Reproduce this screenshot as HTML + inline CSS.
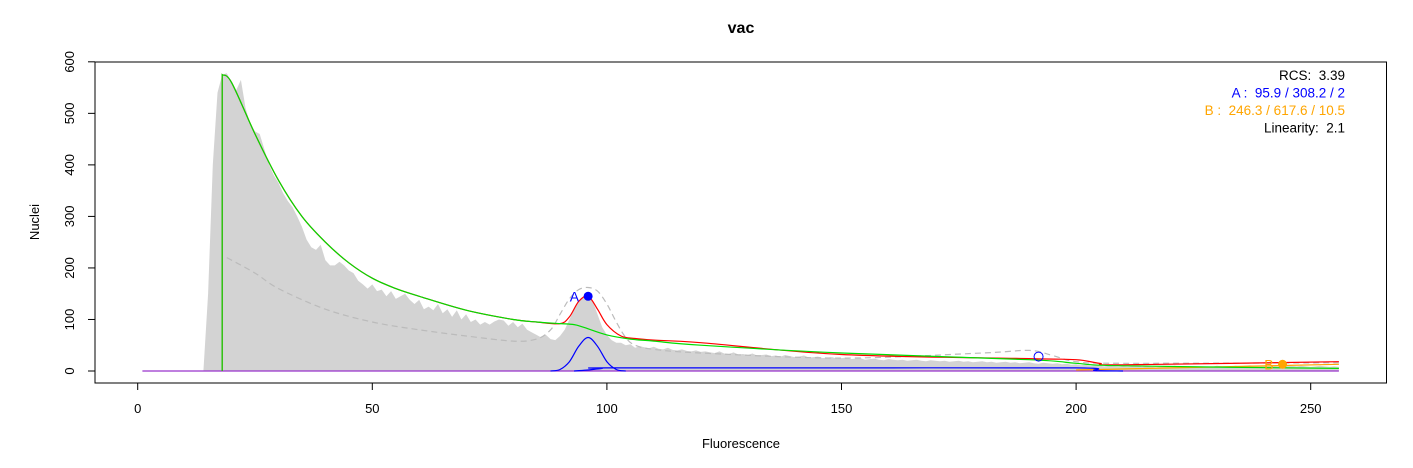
<!DOCTYPE html>
<html><head><meta charset="utf-8"><style>
body{margin:0;background:#fff}
svg{display:block;font-family:"Liberation Sans",sans-serif}
</style></head><body>
<svg id="c" width="1413" height="468" viewBox="0 0 1413 468"></svg>
<script>
const histStart=14;
const histCounts=[0,150,400,540,575,578,560,545,565,510,
480,465,460,430,400,380,365,345,330,318,
300,280,255,240,235,245,215,205,205,212,
205,195,190,175,168,160,168,155,158,145,
155,140,145,150,138,130,138,120,125,118,
130,112,120,105,118,100,110,95,100,90,
95,90,96,100,98,88,95,85,92,80,
75,70,65,70,62,60,68,80,100,120,
135,145,150,135,110,85,70,60,55,55,
50,52,45,48,46,44,47,43,42,45,
41,40,42,39,38,40,37,38,36,35,
38,34,33,36,32,33,31,34,30,31,
32,29,30,28,31,29,27,28,30,26,
27,28,25,26,27,24,25,26,23,24,
25,22,23,24,22,21,23,22,21,22,
20,21,22,20,19,21,20,19,20,18,
19,20,18,19,17,18,19,17,18,16,
17,18,16,17,15,16,17,15,14,16,
15,14,15,13,14,12,13,11,12,10,
11,10,9,10,9,8,9,8,9,10,
8,9,8,7,8,9,8,10,9,8,
9,8,7,8,9,8,10,9,8,9,
10,9,10,11,10,9,10,11,10,9,
10,11,10,9,10,9,8,9,10,9,
8,9,8];
const debrisX=[18,20,25,30,35,40,45,50,55,60,70,80,85,90,93,95,100,105,110,120,150,190,200,210,256];
const debrisY=[575,560,460,370,300,250,210,180,160,145,118,100,95,92,90,85,70,62,58,50,35,22,15,10,5];
const fitX=[18,20,25,30,35,40,45,50,55,60,70,80,85,90,92,94,96,98,100,103,106,110,120,150,190,200,205,210,256];
const fitY=[575,560,460,370,300,250,210,180,160,145,118,100,95,92,105,135,145,120,90,68,63,60,55,32,24,22,15,12,18];
const g1X=[88,90,92,94,96,98,100,102,104];
const g1Y=[0,3,18,48,65,48,18,3,0];
const sX=[93,96,99,100,150,200,204,210];
const sY=[0,2,5,6,6,6,1,0];
const dashX=[19,25,30,40,50,60,70,80,85,88,90,92,94,96,98,100,102,104,106,110,120,150,180,190,195,200,210,256];
const dashY=[220,190,160,120,95,80,68,58,62,80,110,140,158,162,155,130,95,65,50,42,35,25,35,40,30,18,15,16];
const orX=[200,256];
const orY=[2,13];
const xTicks=[0,50,100,150,200,250];
const yTicks=[0,100,200,300,400,500,600];
const ns="http://www.w3.org/2000/svg";
const svg=document.getElementById('c');
const X=v=>137.7+v*4.692;
const Y=v=>371-v*0.5153;
function mk(t,a,p){const e=document.createElementNS(ns,t);for(const k in a)e.setAttribute(k,a[k]);(p||svg).appendChild(e);return e;}
function smooth(xs,ys){const P=xs.map((x,i)=>[X(x),Y(ys[i])]);let d='M'+P[0][0].toFixed(1)+','+P[0][1].toFixed(1);
for(let i=0;i<P.length-1;i++){const p0=P[i-1]||P[i],p1=P[i],p2=P[i+1],p3=P[i+2]||p2;
const c1=[p1[0]+(p2[0]-p0[0])/6,p1[1]+(p2[1]-p0[1])/6],c2=[p2[0]-(p3[0]-p1[0])/6,p2[1]-(p3[1]-p1[1])/6];
d+=` C${c1[0].toFixed(1)},${c1[1].toFixed(1)} ${c2[0].toFixed(1)},${c2[1].toFixed(1)} ${p2[0].toFixed(1)},${p2[1].toFixed(1)}`;}return d;}
let hp=[];hp.push(X(histStart)+','+Y(0));
histCounts.forEach((v,i)=>{hp.push(X(histStart+i).toFixed(1)+','+Y(v).toFixed(1));});
hp.push(X(histStart+histCounts.length-1)+','+Y(0));
const h=mk('polygon',{points:hp.join(' '),fill:'#d3d3d3',stroke:'none'});


function line(xs,ys,col,name,extra,pre){const e=mk('path',Object.assign({d:(pre||'')+smooth(xs,ys).replace(/^M/,pre?'L':'M'),fill:'none',stroke:col,'stroke-width':1.2},extra||{}));

}
line(dashX,dashY,'#bbbbbb','model-dashed-line',{'stroke-dasharray':'6,4'});
line([1,256],[0,0],'#9933cc','baseline-line');
line(orX,orY,'orange','peak-b-line');
line(sX,sY,'#0000ff','s-phase-line');
line(g1X,g1Y,'#0000ff','g1-a-line');
line(fitX,fitY,'#ff0000','model-fit-line',{},'M'+X(18)+','+Y(0)+' ');
line(debrisX,debrisY,'#00dd00','debris-line',{},'M'+X(18)+','+Y(0)+' ');
let e=mk('circle',{cx:X(96),cy:Y(145),r:4.5,fill:'#0000ff'});

e=mk('circle',{cx:X(192),cy:Y(28),r:4.5,fill:'none',stroke:'#0000ff'});

e=mk('circle',{cx:X(244),cy:Y(13),r:4.5,fill:'orange'});

e=mk('text',{x:X(96)-9,y:Y(145)+5,'font-size':14,fill:'#0000ff','text-anchor':'end'});e.textContent='A';

e=mk('text',{x:X(244)-9,y:Y(13)+5,'font-size':14,fill:'orange','text-anchor':'end'});e.textContent='B';

e=mk('rect',{x:95,y:62,width:1291.5,height:321,fill:'none',stroke:'#000','stroke-width':1});

xTicks.forEach(t=>{mk('line',{x1:X(t),x2:X(t),y1:383,y2:390,stroke:'#000'});
const tx=mk('text',{x:X(t),y:413,'font-size':13,'text-anchor':'middle'});tx.textContent=t;
});
yTicks.forEach(t=>{mk('line',{x1:88,x2:95,y1:Y(t),y2:Y(t),stroke:'#000'});
const tx=mk('text',{x:74,y:Y(t),'font-size':13,'text-anchor':'middle',transform:`rotate(-90 74 ${Y(t)})`});tx.textContent=t;
});
e=mk('text',{x:741,y:33,'font-size':16,'font-weight':'bold','text-anchor':'middle'});e.textContent='vac';

e=mk('text',{x:741,y:448,'font-size':13,'text-anchor':'middle'});e.textContent='Fluorescence';

e=mk('text',{x:39,y:222,'font-size':13,'text-anchor':'middle',transform:'rotate(-90 39 222)'});e.textContent='Nuclei';

const stats=[['RCS:  3.39','#000','stat-rcs'],['A :  95.9 / 308.2 / 2','#0000ff','stat-peak-a'],['B :  246.3 / 617.6 / 10.5','orange','stat-peak-b'],['Linearity:  2.1','#000','stat-linearity']];
stats.forEach((s,i)=>{const t=mk('text',{x:1345,y:80+i*17.5,'font-size':13.5,fill:s[1],'text-anchor':'end',style:'white-space:pre'});t.textContent=s[0];
});
</script>
</body></html>
